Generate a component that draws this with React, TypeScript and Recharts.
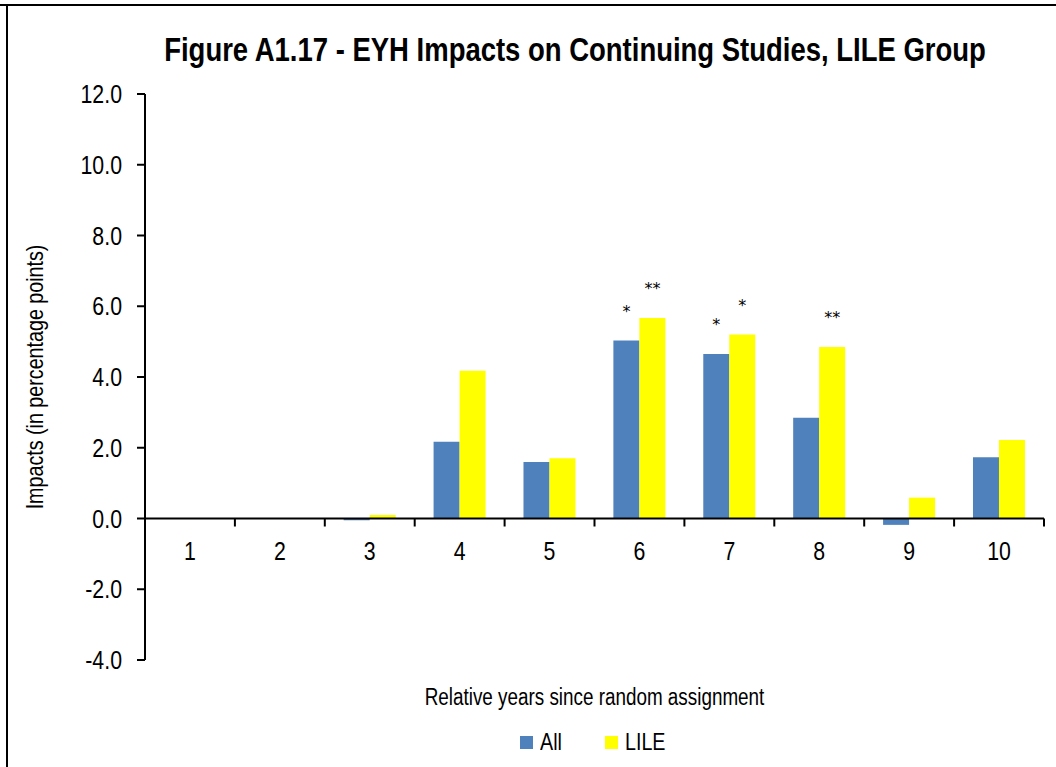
import React from 'react';
import { BarChart, Bar, XAxis, YAxis, ReferenceLine, LabelList } from 'recharts';

const categories = ['1', '2', '3', '4', '5', '6', '7', '8', '9', '10'];
const allValues = [0, 0, -0.05, 2.17, 1.6, 5.03, 4.65, 2.85, -0.18, 1.73];
const lileValues = [0, 0, 0.1, 4.18, 1.7, 5.67, 5.2, 4.85, 0.59, 2.22];
const allStars = ['', '', '', '', '', '*', '*', '', '', ''];
const lileStars = ['', '', '', '', '', '**', '*', '**', '', ''];
const yTicks = [-4, -2, 0, 2, 4, 6, 8, 10, 12];

const seriesNames = ['All', 'LILE'];
const seriesColors = ['#4F81BD', '#FFFF00'];

// no Arial Narrow here: Liberation Sans squeezed horizontally
const FONT = "'Liberation Sans', Arial, sans-serif";
const NARROW = 0.82;
const W = 1056;
const H = 767;
const PLOT_LEFT = 145;
const PLOT_RIGHT = 1044;
const PLOT_TOP = 94;
const PLOT_BOTTOM = 660;
const X_AXIS_H = 30;
const Y_MIN = -4;
const Y_MAX = 12;

const zeroY = PLOT_TOP + ((PLOT_BOTTOM - PLOT_TOP) * Y_MAX) / (Y_MAX - Y_MIN);
const band = (PLOT_RIGHT - PLOT_LEFT) / categories.length;

const data = categories.map((c, i) => ({
  year: c,
  all: allValues[i],
  lile: lileValues[i],
  allStar: allStars[i],
  lileStar: lileStars[i],
}));

const renderXTick = (props: any) => {
  const { x, payload, index } = props;
  return (
    <g key={`xt-${index}`}>
      <line x1={x - band / 2} x2={x - band / 2} y1={zeroY} y2={zeroY + 8} stroke="#000" strokeWidth={2} />
      {index === categories.length - 1 && (
        <line x1={x + band / 2} x2={x + band / 2} y1={zeroY} y2={zeroY + 8} stroke="#000" strokeWidth={2} />
      )}
      <text
        transform={`translate(${x},${zeroY + 41}) scale(${NARROW},1)`}
        textAnchor="middle"
        fontSize={26}
        fontFamily={FONT}
        fill="#000"
      >
        {payload.value}
      </text>
    </g>
  );
};

const renderYTick = (props: any) => {
  const { x, y, payload, index } = props;
  return (
    <text
      key={`yt-${index}`}
      transform={`translate(${x},${y}) scale(${NARROW},1)`}
      textAnchor="end"
      dy="0.355em"
      fontSize={26}
      fontFamily={FONT}
      fill="#000"
    >
      {payload.value.toFixed(1)}
    </text>
  );
};

const Stars = (props: any) => {
  const { x, y, width, height, value } = props;
  if (!value) return null;
  const top = height < 0 ? y + height : y;
  return (
    <text x={x + width / 2} y={top - 24} textAnchor="middle" fontSize={16} fontFamily="'DejaVu Sans', sans-serif" fill="#000">
      {value}
    </text>
  );
};

const narrowText = (origin: string): React.CSSProperties => ({
  transform: `scaleX(${NARROW})`,
  transformOrigin: origin,
  whiteSpace: 'nowrap',
});

export default function App() {
  return (
    <div style={{ position: 'absolute', left: 0, top: 0, width: W, height: H, background: '#fff', fontFamily: FONT }}>
      <div style={{ position: 'absolute', left: 0, top: 4, width: W, height: 2, background: '#000' }} />
      <div style={{ position: 'absolute', left: 6, top: 4, width: 2, height: H - 4, background: '#000' }} />
      <div
        style={{
          position: 'absolute',
          left: 575 - 600,
          width: 1200,
          top: 31,
          textAlign: 'center',
          fontSize: 33.5,
          fontWeight: 'bold',
          lineHeight: '38px',
          ...narrowText('center'),
        }}
      >
        Figure A1.17 - EYH Impacts on Continuing Studies, LILE Group
      </div>
      <BarChart
        width={W}
        height={H}
        data={data}
        margin={{ top: PLOT_TOP, right: W - PLOT_RIGHT, bottom: H - PLOT_BOTTOM - X_AXIS_H, left: 45 }}
        barCategoryGap="21%"
        barGap={0}
        style={{ position: 'absolute', left: 0, top: 0 }}
      >
        <XAxis dataKey="year" height={X_AXIS_H} axisLine={false} tickLine={false} tick={renderXTick} interval={0} />
        <YAxis
          width={PLOT_LEFT - 45}
          domain={[Y_MIN, Y_MAX]}
          ticks={yTicks}
          allowDataOverflow
          axisLine={{ stroke: '#000', strokeWidth: 2 }}
          tickLine={{ stroke: '#000', strokeWidth: 2 }}
          tickSize={8}
          tickMargin={15}
          tick={renderYTick}
        />
        <Bar dataKey="all" name={seriesNames[0]} fill={seriesColors[0]} isAnimationActive={false}>
          <LabelList dataKey="allStar" content={<Stars />} />
        </Bar>
        <Bar dataKey="lile" name={seriesNames[1]} fill={seriesColors[1]} isAnimationActive={false}>
          <LabelList dataKey="lileStar" content={<Stars />} />
        </Bar>
        <ReferenceLine y={0} stroke="#000" strokeWidth={2} />
      </BarChart>
      <div
        style={{
          position: 'absolute',
          left: 35,
          top: (PLOT_TOP + PLOT_BOTTOM) / 2,
          transform: `translate(-50%, -50%) rotate(-90deg) scaleX(${NARROW})`,
          whiteSpace: 'nowrap',
          fontSize: 24,
        }}
      >
        Impacts (in percentage points)
      </div>
      <div
        style={{
          position: 'absolute',
          left: PLOT_LEFT - 200,
          width: PLOT_RIGHT - PLOT_LEFT + 400,
          top: 683,
          textAlign: 'center',
          fontSize: 23,
          lineHeight: '28px',
          ...narrowText('center'),
        }}
      >
        Relative years since random assignment
      </div>
      <div
        style={{
          position: 'absolute',
          left: 520,
          top: 728,
          display: 'flex',
          fontSize: 24,
          lineHeight: '28px',
        }}
      >
        {seriesNames.map((n, i) => (
          <div key={n} style={{ display: 'flex', alignItems: 'center', marginRight: 32 }}>
            <span style={{ width: 13, height: 13, background: seriesColors[i], marginRight: 7, display: 'inline-block' }} />
            <span style={{ display: 'inline-block', width: n.length * 11, ...narrowText('left') }}>{n}</span>
          </div>
        ))}
      </div>
    </div>
  );
}
